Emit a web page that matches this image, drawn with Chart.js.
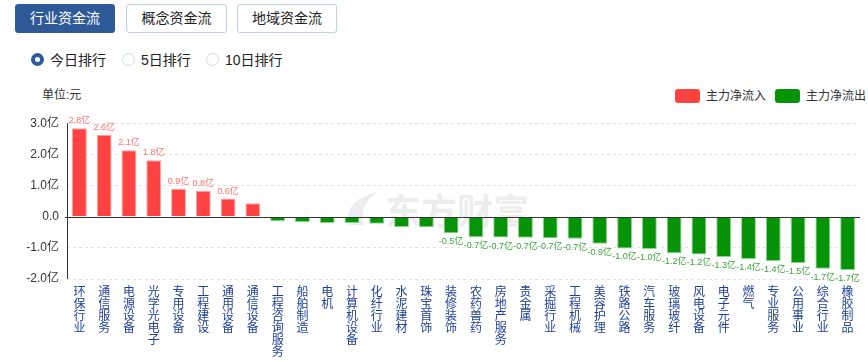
<!DOCTYPE html>
<html lang="zh-CN">
<head>
<meta charset="utf-8">
<title>行业资金流</title>
<script src="https://cdn.jsdelivr.net/npm/chart.js@4.4.1/dist/chart.umd.min.js"></script>
<style>
    html, body { margin: 0; padding: 0; background: #fff; }
    body {
        width: 868px; height: 362px; position: relative; overflow: hidden;
        font-family: Arial, "Liberation Sans", "Noto Sans CJK SC", sans-serif; color: #333;
    }
    .tab {
        position: absolute; top: 4px; height: 29px; box-sizing: border-box;
        border: 1px solid #bdd1e8; border-radius: 3px; background: #fff;
        font-size: 14px; line-height: 27px; text-align: center; color: #222;
    }
    .tab.active { background: #2e5a98; border-color: #2e5a98; color: #fff; }
    .radio { position: absolute; top: 53px; height: 14px; font-size: 14px; line-height: 14px; color: #222; }
    .radio i {
        position: absolute; left: 0; top: 0; width: 13px; height: 13px; box-sizing: border-box;
        border: 1px solid #c9d9ea; border-radius: 50%; background: #fff;
    }
    .radio.on i { border: 4px solid #2e5a98; }
    .radio span { position: absolute; left: 19px; top: 0; white-space: nowrap; }
    .unit { position: absolute; left: 42px; top: 88px; font-size: 12px; line-height: 14px; color: #333; }
    .legend { position: absolute; top: 89px; font-size: 12px; line-height: 14px; color: #333; white-space: nowrap; }
    .legend b { display: inline-block; width: 25px; height: 14px; border-radius: 3px; vertical-align: top; margin-right: 6px; }
    #chart-wrap { position: absolute; left: 0; top: 108px; width: 868px; height: 254px; }
</style>
</head>
<body>
<div class="tab active" style="left:15px;width:100px;">行业资金流</div>
<div class="tab" style="left:126px;width:101px;">概念资金流</div>
<div class="tab" style="left:237px;width:100px;">地域资金流</div>

<div class="radio on" style="left:31px;"><i></i><span>今日排行</span></div>
<div class="radio" style="left:122px;"><i></i><span>5日排行</span></div>
<div class="radio" style="left:206px;"><i></i><span>10日排行</span></div>

<div class="unit">单位:元</div>
<div class="legend" style="left:675px;"><b style="background:#ff4242;"></b>主力净流入</div>
<div class="legend" style="left:775px;"><b style="background:#079307;"></b>主力净流出</div>

<div id="chart-wrap"><canvas id="flow-chart" width="868" height="254"></canvas></div>

<script>
// 行业名称
const industries = [
    "环保行业", "通信服务", "电源设备", "光学光电子", "专用设备", "工程建设", "通用设备", "通信设备",
    "工程咨询服务", "船舶制造", "电机", "计算机设备", "化纤行业", "水泥建材", "珠宝首饰", "装修装饰",
    "农药兽药", "房地产服务", "贵金属", "采掘行业", "工程机械", "美容护理", "铁路公路", "汽车服务",
    "玻璃玻纤", "风电设备", "电子元件", "燃气", "专业服务", "公用事业", "综合行业", "橡胶制品"
];

// 主力净额 (亿元)
const netFlow = [
    2.84, 2.63, 2.13, 1.81, 0.9, 0.83, 0.58, 0.43,
    -0.15, -0.17, -0.2, -0.2, -0.23, -0.33, -0.34, -0.53,
    -0.66, -0.67, -0.68, -0.69, -0.71, -0.87, -1.02, -1.04,
    -1.17, -1.21, -1.29, -1.36, -1.42, -1.49, -1.67, -1.71
];

const yTicks = [-2, -1, 0, 1, 2, 3];

const inflow = netFlow.map(v => (v > 0 ? v : null));
const outflow = netFlow.map(v => (v < 0 ? v : null));

document.addEventListener("DOMContentLoaded", () => {
    const ctx = document.getElementById("flow-chart").getContext("2d");

    // 东方财富 watermark behind the bars
    const watermark = {
        id: "watermark",
        beforeDatasetsDraw(chart) {
            const c = chart.ctx;
            c.save();
            c.fillStyle = "#ededed";
            c.beginPath();
            c.moveTo(349, 117);
            c.quadraticCurveTo(343, 92, 377, 84);
            c.quadraticCurveTo(358, 98, 364, 117);
            c.closePath();
            c.fill();
            c.font = "bold 36px 'Noto Sans CJK SC', sans-serif";
            c.textBaseline = "middle";
            c.fillText("东方财富", 385, 103);
            c.restore();
        }
    };

    // axis line and zero line
    const axisLines = {
        id: "axisLines",
        afterDatasetsDraw(chart) {
            const c = chart.ctx;
            const y = chart.scales.y;
            const area = chart.chartArea;
            c.save();
            c.strokeStyle = "#333";
            c.lineWidth = 1;
            c.beginPath();
            c.moveTo(area.left + 0.5, area.top);
            c.lineTo(area.left + 0.5, area.bottom);
            const zero = Math.round(y.getPixelForValue(0)) + 0.5;
            c.moveTo(area.left - 2, zero);
            c.lineTo(area.right, zero);
            c.stroke();
            c.restore();
        }
    };

    // value labels like 2.8亿 / -0.5亿
    const valueLabels = {
        id: "valueLabels",
        afterDatasetsDraw(chart) {
            const c = chart.ctx;
            c.save();
            c.font = "9px Arial, 'Noto Sans CJK SC', sans-serif";
            c.textAlign = "center";
            chart.data.datasets.forEach((ds, di) => {
                const meta = chart.getDatasetMeta(di);
                meta.data.forEach((bar, i) => {
                    const v = ds.data[i];
                    if (v === null || Math.abs(v) < 0.5) return;
                    const text = v.toFixed(1) + "亿";
                    if (v > 0) {
                        c.fillStyle = "#ff7373";
                        c.textBaseline = "bottom";
                        c.fillText(text, bar.x, bar.y - 3);
                    } else {
                        c.fillStyle = "#3aa63a";
                        c.textBaseline = "top";
                        c.fillText(text, bar.x, bar.y + 4);
                    }
                });
            });
            c.restore();
        }
    };

    new Chart(ctx, {
        type: "bar",
        data: {
            labels: industries.map(name => name.split("")),
            datasets: [
                {
                    label: "主力净流入",
                    data: inflow,
                    backgroundColor: "#ff4242",
                    borderColor: "#ffa3a3",
                    borderWidth: 1,
                },
                {
                    label: "主力净流出",
                    data: outflow,
                    backgroundColor: "#079307",
                    borderColor: "#8fd48f",
                    borderWidth: 1,
                },
            ],
        },
        options: {
            responsive: false,
            animation: false,
            devicePixelRatio: 1,
            categoryPercentage: 1,
            barPercentage: 0.6,
            layout: { padding: { top: 9, right: 8, left: 0, bottom: 0 } },
            plugins: {
                legend: { display: false },
                tooltip: { enabled: false },
            },
            scales: {
                x: {
                    stacked: true,
                    grid: { display: false, drawTicks: false },
                    border: { display: false },
                    ticks: {
                        autoSkip: false,
                        maxRotation: 0,
                        minRotation: 0,
                        padding: 6,
                        color: "#1f3f99",
                        font: { size: 12, lineHeight: 1, family: "'Noto Sans CJK SC', sans-serif" },
                    },
                    afterFit: (scale) => { scale.height = 83; },
                },
                y: {
                    stacked: true,
                    min: yTicks[0],
                    max: yTicks[yTicks.length - 1],
                    afterBuildTicks: (scale) => { scale.ticks = yTicks.map(value => ({ value })); },
                    grid: {
                        drawTicks: false,
                        color: (c) => (c.tick && c.tick.value === 0 ? "rgba(0,0,0,0)" : "#e3e3e3"),
                    },
                    border: { display: false, dash: [3, 3] },
                    ticks: {
                        padding: 8,
                        color: "#333",
                        font: { size: 12, family: "Arial, 'Liberation Sans', 'Noto Sans CJK SC', sans-serif" },
                        callback: (v) => (v === 0 ? "0.0" : v.toFixed(1) + "亿"),
                    },
                    afterFit: (scale) => { scale.width = 67; },
                },
            },
        },
        plugins: [watermark, axisLines, valueLabels],
    });
});
</script>
</body>
</html>
